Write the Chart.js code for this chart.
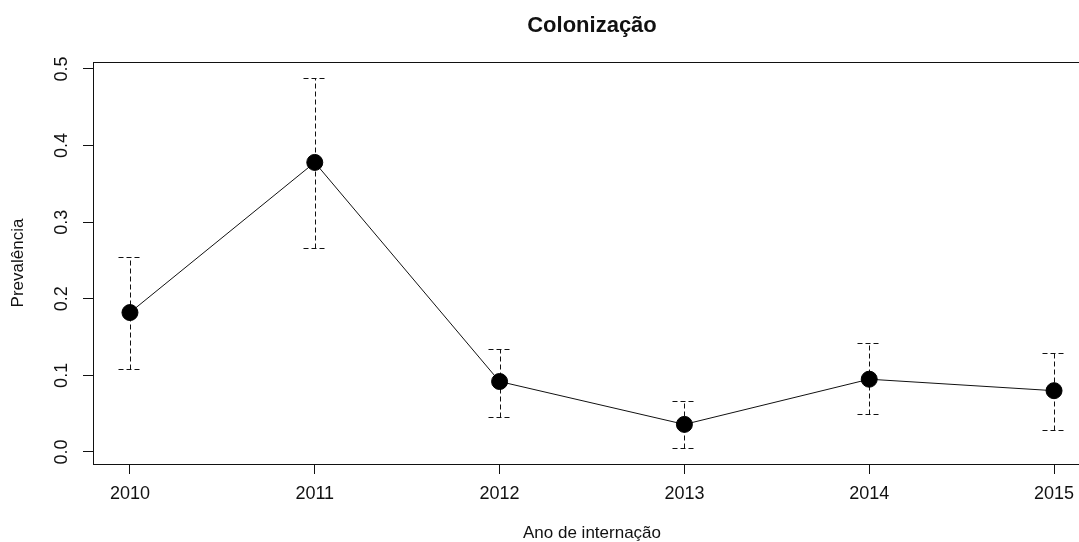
<!DOCTYPE html>
<html>
<head>
<meta charset="utf-8">
<title>Colonização</title>
<script src="https://cdn.jsdelivr.net/npm/chart.js@4.4.1/dist/chart.umd.min.js"></script>
<style>
  html, body { margin: 0; padding: 0; background: #fff; overflow: hidden; }
  #wrap { width: 1100px; height: 542px; }
</style>
</head>
<body>
<div id="wrap"><canvas id="c" width="1100" height="542"></canvas></div>
<script>
// Prevalence of colonization by year of admission, with confidence limits
const years = [2010, 2011, 2012, 2013, 2014, 2015];
const prevalence = [0.182, 0.378, 0.092, 0.036, 0.095, 0.080];
const lowerLimit = [0.108, 0.266, 0.046, 0.005, 0.050, 0.029];
const upperLimit = [0.255, 0.488, 0.135, 0.066, 0.142, 0.129];
const yTickValues = [0.0, 0.1, 0.2, 0.3, 0.4, 0.5];
const xTickValues = years;

const INK = '#111';
const FONT = "'Liberation Sans', Arial, sans-serif";

// Dashed vertical bars with dashed caps, drawn through the chart scales
const errorBars = {
  id: 'errorBars',
  beforeDatasetsDraw(chart) {
    const { ctx, scales: { x, y } } = chart;
    const cap = 12;
    ctx.save();
    ctx.strokeStyle = INK;
    ctx.lineWidth = 1;
    ctx.setLineDash([5, 3]);
    years.forEach((yr, i) => {
      const px = Math.round(x.getPixelForValue(yr)) + 0.5;
      const top = Math.round(y.getPixelForValue(upperLimit[i])) + 0.5;
      const bot = Math.round(y.getPixelForValue(lowerLimit[i])) + 0.5;
      ctx.beginPath();
      ctx.moveTo(px, bot);
      ctx.lineTo(px, top);
      ctx.stroke();
      ctx.beginPath();
      ctx.moveTo(px - cap, top);
      ctx.lineTo(px + cap, top);
      ctx.moveTo(px - cap, bot);
      ctx.lineTo(px + cap, bot);
      ctx.stroke();
    });
    ctx.restore();
  }
};

// Box around the plotting region
const plotFrame = {
  id: 'plotFrame',
  afterDraw(chart) {
    const { ctx, chartArea: a } = chart;
    ctx.save();
    ctx.strokeStyle = INK;
    ctx.lineWidth = 1;
    ctx.strokeRect(Math.round(a.left) + 0.5, Math.round(a.top) + 0.5,
                   Math.round(a.right - a.left), Math.round(a.bottom - a.top));
    ctx.restore();
  }
};

new Chart(document.getElementById('c'), {
  type: 'line',
  data: {
    datasets: [{
      data: years.map((yr, i) => ({ x: yr, y: prevalence[i] })),
      borderColor: INK,
      borderWidth: 1,
      backgroundColor: '#000',
      pointBackgroundColor: '#000',
      pointBorderColor: '#000',
      pointBorderWidth: 1,
      pointRadius: 8,
      tension: 0,
      fill: false,
      clip: false
    }]
  },
  options: {
    responsive: false,
    animation: false,
    events: [],
    layout: { padding: { left: 0, right: 7, top: 0, bottom: 0 } },
    plugins: {
      legend: { display: false },
      tooltip: { enabled: false },
      title: {
        display: true,
        text: 'Colonização',
        fullSize: false,
        color: INK,
        font: { family: FONT, size: 22, weight: 'bold', lineHeight: 1.2 },
        padding: { top: 13, bottom: 22.6 }
      }
    },
    scales: {
      x: {
        type: 'linear',
        position: 'bottom',
        min: 2009.8,
        max: 2015.2,
        bounds: 'data',
        afterFit(scale) { scale.height = 78; },
        afterBuildTicks(scale) { scale.ticks = xTickValues.map(v => ({ value: v })); },
        ticks: {
          stepSize: 1,
          includeBounds: false,
          autoSkip: false,
          maxRotation: 0,
          color: INK,
          padding: 9,
          font: { family: FONT, size: 18 },
          callback: v => String(v)
        },
        grid: { drawOnChartArea: false, drawTicks: true, tickLength: 10, tickColor: INK, tickWidth: 1 },
        border: { display: false },
        title: {
          display: true,
          text: 'Ano de internação',
          color: INK,
          font: { family: FONT, size: 17, lineHeight: 1 },
          padding: { top: 0, bottom: 0.5 }
        }
      },
      y: {
        type: 'linear',
        position: 'left',
        min: -0.0157,
        max: 0.5091,
        bounds: 'data',
        afterFit(scale) { scale.width = 93; },
        afterBuildTicks(scale) { scale.ticks = yTickValues.map(v => ({ value: v })); },
        ticks: {
          stepSize: 0.1,
          includeBounds: false,
          autoSkip: false,
          minRotation: 90,
          maxRotation: 90,
          crossAlign: 'center',
          color: INK,
          padding: 8.5,
          font: { family: FONT, size: 18 },
          callback: v => Number(v).toFixed(1)
        },
        grid: { drawOnChartArea: false, drawTicks: true, tickLength: 10, tickColor: INK, tickWidth: 1 },
        border: { display: false },
        title: {
          display: true,
          text: 'Prevalência',
          color: INK,
          font: { family: FONT, size: 17, lineHeight: 1.2 },
          padding: { top: 8, bottom: 0 }
        }
      }
    }
  },
  plugins: [errorBars, plotFrame]
});
</script>
</body>
</html>
